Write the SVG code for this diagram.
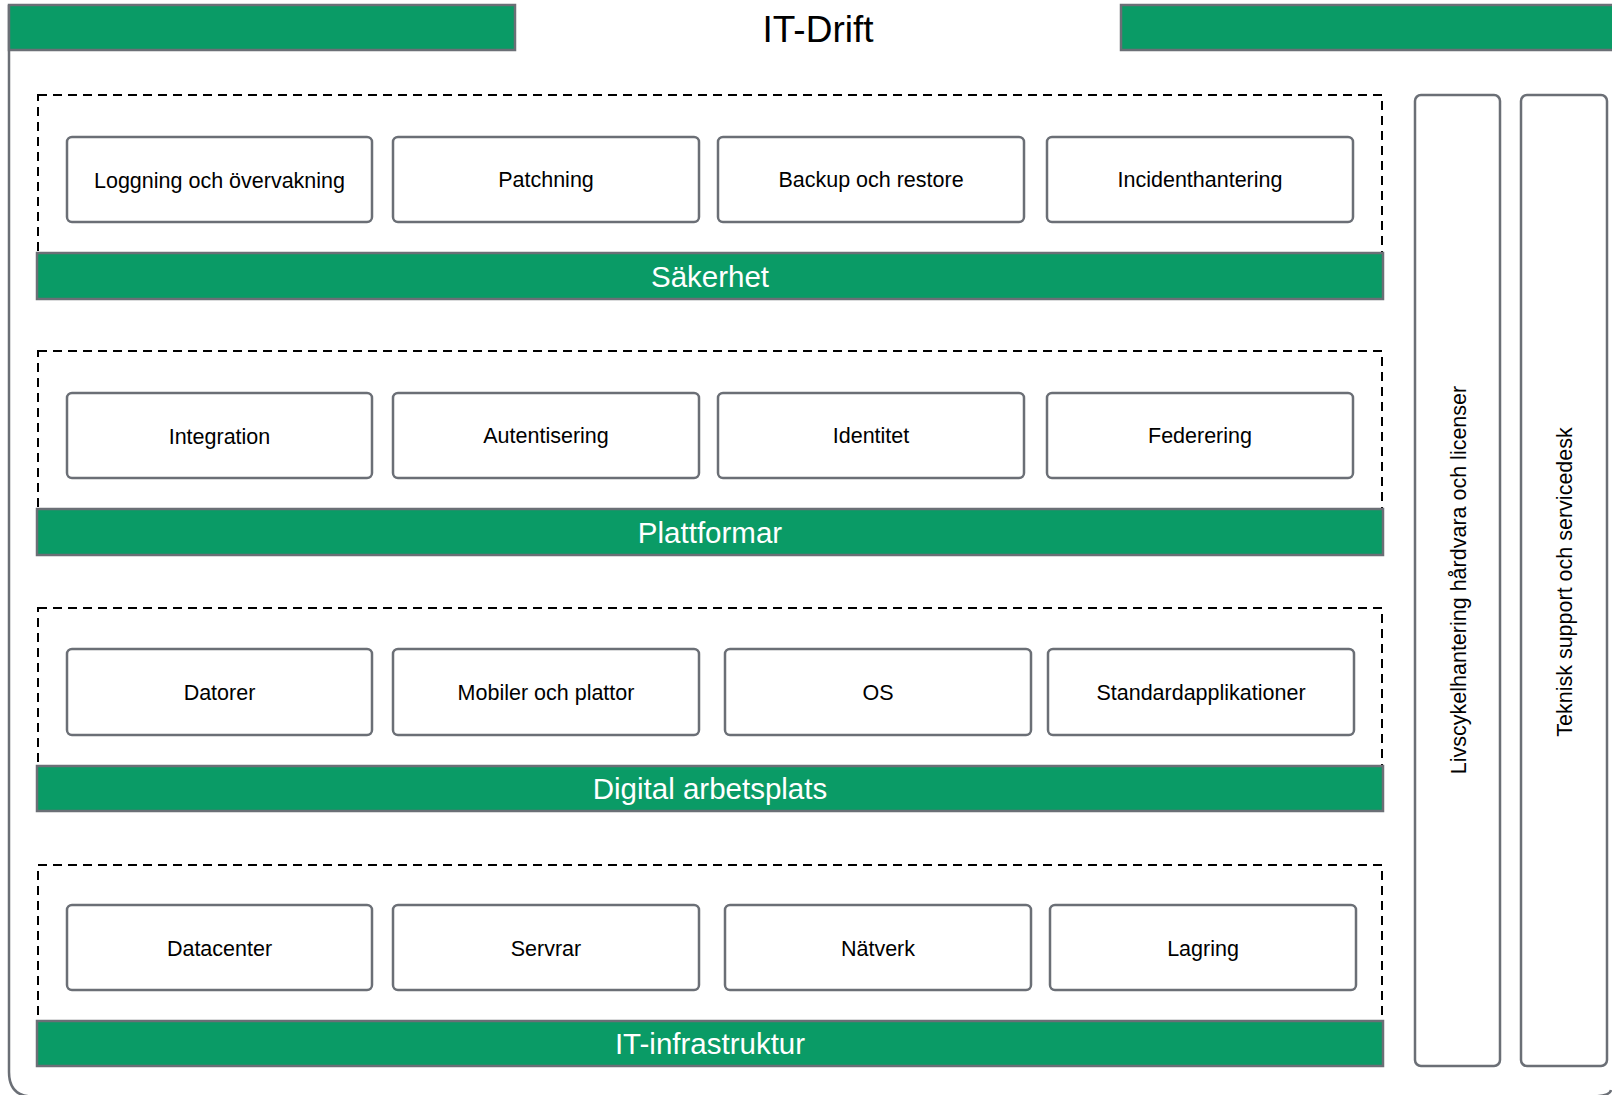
<svg xmlns="http://www.w3.org/2000/svg" width="1612" height="1095" viewBox="0 0 1612 1095">
<style>
.frame{fill:none;stroke:#6b6f76;stroke-width:2.5}
.bar{fill:#0a9b66;stroke:#6b6f76;stroke-width:2.5}
.dash{fill:none;stroke:#000;stroke-width:2;stroke-dasharray:9 6}
.box{fill:#fff;stroke:#6b6f76;stroke-width:2.5}
.col{fill:#fff;stroke:#6b6f76;stroke-width:2.5}
.lbl{font-family:"Liberation Sans",Arial,sans-serif;font-size:21.5px;fill:#000;text-anchor:middle}
.band{font-family:"Liberation Sans",Arial,sans-serif;font-size:29.5px;fill:#fff;text-anchor:middle}
.title{font-family:"Liberation Sans",Arial,sans-serif;font-size:37px;fill:#000;text-anchor:middle}
</style>
<rect width="1612" height="1095" fill="#fff"/>
<g id="frame">
<path class="frame" d="M9 5 V1072 Q9 1096.5 33 1096.5 H1590 Q1610 1096.5 1611 1090"/>
<rect class="bar" x="9" y="5" width="506" height="45"/>
<rect class="bar" x="1121" y="5" width="500" height="45"/>
<text class="title" x="818" y="42">IT-Drift</text>
</g>
<g id="sec-sakerhet">
<rect class="dash" x="38" y="95" width="1344" height="204"/>
<rect class="bar" x="37" y="253" width="1346" height="46"/>
<text class="band" x="710" y="286.5">Säkerhet</text>
</g>
<g id="sec-plattformar">
<rect class="dash" x="38" y="351" width="1344" height="204"/>
<rect class="bar" x="37" y="509" width="1346" height="46"/>
<text class="band" x="710" y="542.5">Plattformar</text>
</g>
<g id="sec-digital">
<rect class="dash" x="38" y="608" width="1344" height="203"/>
<rect class="bar" x="37" y="766" width="1346" height="45"/>
<text class="band" x="710" y="799">Digital arbetsplats</text>
</g>
<g id="sec-infra">
<rect class="dash" x="38" y="865" width="1344" height="201"/>
<rect class="bar" x="37" y="1021" width="1346" height="45"/>
<text class="band" x="710" y="1054">IT-infrastruktur</text>
</g>
<g id="n-loggning"><rect class="box" x="67" y="137" width="305" height="85" rx="5"/><text class="lbl" x="219.5" y="187.5">Loggning och övervakning</text></g>
<g id="n-patchning"><rect class="box" x="393" y="137" width="306" height="85" rx="5"/><text class="lbl" x="546" y="187">Patchning</text></g>
<g id="n-backup"><rect class="box" x="718" y="137" width="306" height="85" rx="5"/><text class="lbl" x="871" y="187">Backup och restore</text></g>
<g id="n-incident"><rect class="box" x="1047" y="137" width="306" height="85" rx="5"/><text class="lbl" x="1200" y="187">Incidenthantering</text></g>
<g id="n-integration"><rect class="box" x="67" y="393" width="305" height="85" rx="5"/><text class="lbl" x="219.5" y="444">Integration</text></g>
<g id="n-autentisering"><rect class="box" x="393" y="393" width="306" height="85" rx="5"/><text class="lbl" x="546" y="443">Autentisering</text></g>
<g id="n-identitet"><rect class="box" x="718" y="393" width="306" height="85" rx="5"/><text class="lbl" x="871" y="443">Identitet</text></g>
<g id="n-federering"><rect class="box" x="1047" y="393" width="306" height="85" rx="5"/><text class="lbl" x="1200" y="443">Federering</text></g>
<g id="n-datorer"><rect class="box" x="67" y="649" width="305" height="86" rx="5"/><text class="lbl" x="219.5" y="700">Datorer</text></g>
<g id="n-mobiler"><rect class="box" x="393" y="649" width="306" height="86" rx="5"/><text class="lbl" x="546" y="700">Mobiler och plattor</text></g>
<g id="n-os"><rect class="box" x="725" y="649" width="306" height="86" rx="5"/><text class="lbl" x="878" y="700">OS</text></g>
<g id="n-standard"><rect class="box" x="1048" y="649" width="306" height="86" rx="5"/><text class="lbl" x="1201" y="700">Standardapplikationer</text></g>
<g id="n-datacenter"><rect class="box" x="67" y="905" width="305" height="85" rx="5"/><text class="lbl" x="219.5" y="955.5">Datacenter</text></g>
<g id="n-servrar"><rect class="box" x="393" y="905" width="306" height="85" rx="5"/><text class="lbl" x="546" y="955.5">Servrar</text></g>
<g id="n-natverk"><rect class="box" x="725" y="905" width="306" height="85" rx="5"/><text class="lbl" x="878" y="955.5">Nätverk</text></g>
<g id="n-lagring"><rect class="box" x="1050" y="905" width="306" height="85" rx="5"/><text class="lbl" x="1203" y="955.5">Lagring</text></g>
<g id="n-livscykel"><rect class="col" x="1415" y="95" width="85" height="971" rx="6"/><text class="lbl" transform="translate(1465.5 580) rotate(-90)" x="0" y="0">Livscykelhantering hårdvara och licenser</text></g>
<g id="n-teknisk"><rect class="col" x="1521" y="95" width="86" height="971" rx="6"/><text class="lbl" transform="translate(1571.5 582) rotate(-90)" x="0" y="0">Teknisk support och servicedesk</text></g>
<g id="connectors"></g>
</svg>
